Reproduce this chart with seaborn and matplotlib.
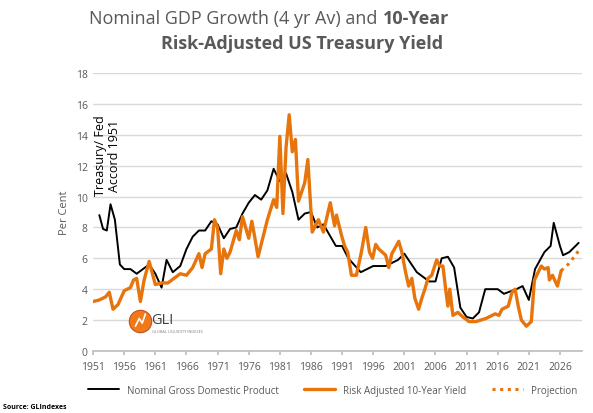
import numpy as np
import pandas as pd
import matplotlib
matplotlib.use("Agg")
import matplotlib.pyplot as plt
import seaborn as sns

# nominal GDP growth, 4 yr average
gdp_year = [1952, 1952.6, 1953.2, 1953.8, 1954.5, 1955.3, 1956, 1957, 1958, 1959, 1960, 1961, 1962, 1962.8,
            1963.8, 1965, 1966, 1967, 1968, 1969, 1970, 1971, 1972, 1973, 1974, 1975, 1976, 1977,
            1978, 1979, 1980, 1981, 1982, 1983, 1984, 1985, 1986, 1987, 1988, 1990, 1991, 1992,
            1994, 1996, 1998, 2000, 2001, 2003, 2005, 2006, 2007, 2008, 2009, 2010, 2011, 2012,
            2013, 2014, 2016, 2017, 2019, 2020, 2021, 2022, 2023.5, 2024.5, 2025, 2026, 2026.5,
            2027.5, 2029]
gdp_val = [8.8, 7.9, 7.8, 9.5, 8.5, 5.6, 5.3, 5.3, 5.0, 5.3, 5.6, 5.0, 4.1, 5.9,
           5.1, 5.5, 6.6, 7.4, 7.8, 7.8, 8.4, 8.2, 7.3, 7.9, 8.0, 8.9, 9.6, 10.1,
           9.8, 10.4, 11.8, 11.0, 11.5, 10.3, 8.5, 8.9, 9.0, 8.0, 8.2, 6.8, 6.8, 6.0,
           5.1, 5.5, 5.5, 5.9, 6.3, 5.1, 4.5, 4.5, 6.0, 6.1, 5.4, 2.8, 2.2, 2.1,
           2.5, 4.0, 4.0, 3.7, 4.0, 4.2, 3.3, 5.3, 6.4, 6.8, 8.3, 6.8, 6.2,
           6.4, 7.0]

# risk adjusted 10-year yield
ry_year = [1951, 1952, 1953, 1953.6, 1954.2, 1955, 1956, 1957, 1957.5, 1958, 1958.6, 1959.2, 1960, 1961,
           1962, 1963, 1964, 1965, 1966, 1967, 1968, 1968.5, 1969, 1970, 1970.5, 1971, 1971.5,
           1972, 1972.5, 1973, 1974, 1974.5, 1975, 1976, 1976.5, 1977, 1977.5, 1978, 1979, 1980,
           1980.5, 1981, 1981.5, 1982, 1982.5, 1983, 1983.5, 1984, 1985, 1985.5, 1986.2, 1987.2,
           1988, 1989.1, 1989.8, 1990.1, 1990.9, 1991.4, 1991.9, 1992.5, 1993.3, 1994.1, 1994.8,
           1995.4, 1995.9, 1996.4, 1996.9, 1998, 1998.5, 1999, 2000.1, 2000.6, 2001.2, 2001.7,
           2002.2, 2002.7, 2003.3, 2003.8, 2004.3, 2004.8, 2005.4, 2006.2, 2006.7, 2007.2, 2007.7,
           2008, 2008.3, 2008.8, 2009.6, 2010.4, 2011.4, 2012.5, 2014.1, 2015.6, 2016.2, 2016.7,
           2017.7, 2018.3, 2018.8, 2019.3, 2019.8, 2020.6, 2021.4, 2021.9, 2023, 2023.5, 2024.1,
           2024.3, 2024.8, 2025.6, 2026.2]
ry_val = [3.2, 3.3, 3.5, 3.8, 2.7, 3.0, 3.9, 4.1, 4.6, 4.7, 3.2, 4.6, 5.8, 4.3,
          4.4, 4.4, 4.7, 5.0, 4.9, 5.4, 6.3, 5.4, 6.3, 6.6, 8.5, 8.0, 5.0,
          6.6, 6.0, 6.4, 7.8, 7.2, 8.7, 7.3, 8.4, 7.3, 6.1, 6.9, 8.5, 9.8,
          9.3, 13.9, 8.9, 13.2, 15.3, 12.9, 13.7, 9.7, 10.9, 12.4, 7.7, 8.5,
          7.7, 9.6, 8.1, 8.8, 7.5, 6.8, 6.4, 4.9, 4.9, 6.4, 8.0,
          6.4, 6.0, 6.9, 6.6, 6.2, 5.4, 6.3, 7.1, 6.4, 5.1, 4.2,
          4.7, 3.4, 2.7, 3.4, 4.0, 4.7, 4.9, 5.9, 5.5, 5.5, 3.8,
          2.9, 4.0, 2.3, 2.5, 2.2, 1.9, 1.9, 2.1, 2.4, 2.3, 2.7,
          2.9, 3.8, 4.0, 2.9, 2.0, 1.6, 1.9, 4.6, 5.5, 5.3, 5.4,
          4.6, 4.9, 4.2, 5.2]

proj_year = [2026.2, 2027.3, 2028.5, 2029]
proj_val = [5.2, 5.6, 6.2, 6.5]

orange = "#E8740C"
grey = "#595959"

sns.set_theme(style="white")
plt.rcParams["font.family"] = ["Open Sans", "DejaVu Sans"]

fig = plt.figure(figsize=(5.93, 4.14), dpi=100)
ax = fig.add_axes([0.157, 0.150, 0.824, 0.671])

gdp = pd.DataFrame({"year": gdp_year, "val": gdp_val})
ry = pd.DataFrame({"year": ry_year, "val": ry_val})
pj = pd.DataFrame({"year": proj_year, "val": proj_val})

sns.lineplot(data=gdp, x="year", y="val", ax=ax, color="black", lw=1.4,
             label="Nominal Gross Domestic Product")
sns.lineplot(data=ry, x="year", y="val", ax=ax, color=orange, lw=2.4,
             label="Risk Adjusted 10-Year Yield")
sns.lineplot(data=pj, x="year", y="val", ax=ax, color=orange, lw=2.2, ls=(0, (1, 1.5)),
             label="Projection")

ax.set_xlim(1951, 2029.5)
ax.set_ylim(0, 18)
ax.set_xticks(np.arange(1951, 2027, 5))
ax.set_yticks(np.arange(0, 19, 2))
ax.grid(axis="y", color="#D9D9D9", lw=1)
ax.set_axisbelow(True)
for s in ["top", "right", "left"]:
    ax.spines[s].set_visible(False)
ax.spines["bottom"].set_color("#BFBFBF")
ax.tick_params(axis="both", labelsize=7.5, colors=grey, length=0, pad=4)
ax.tick_params(axis="x", length=3, color="#BFBFBF", direction="out", bottom=True)
ax.set_xlabel("")
ax.set_ylabel("Per Cent", fontsize=8, color=grey)

ax.text(1953.3, 10.1, "Treasury/ Fed\nAccord 1951", rotation=90, fontsize=9,
        ha="center", va="bottom", color="black", linespacing=1.1)

# logo
ax.scatter([1958.6], [1.95], s=260, color="#F07A1A", edgecolor="#C8501A", lw=0.8,
           zorder=5, clip_on=False)
ax.plot([1957.8, 1958.4, 1958.9, 1959.4], [1.6, 2.1, 1.8, 2.4], color="white", lw=1.2, zorder=6)
ax.text(1960.4, 2.05, "GLI", fontsize=10.5, color="#404040", va="center", ha="left")
ax.text(1960.4, 1.35, "GLOBAL LIQUIDITY INDEXES", fontsize=2.8, color="#7F7F7F",
        va="center", ha="left")

leg = ax.legend(loc="upper center", bbox_to_anchor=(0.49, -0.09), ncol=3, frameon=False,
                fontsize=7, handlelength=3.2, columnspacing=2.6)
for t in leg.get_texts():
    t.set_color(grey)

fig.text(0.645, 0.955, "Nominal GDP Growth (4 yr Av) and ", fontsize=13, color=grey,
         ha="right", va="center")
fig.text(0.645, 0.955, "10-Year", fontsize=13, color=grey, weight="bold",
         ha="left", va="center")
fig.text(0.51, 0.893, "Risk-Adjusted US Treasury Yield", fontsize=13, color=grey,
         weight="bold", ha="center", va="center")
fig.text(0.005, 0.012, "Source: GLIndexes", fontsize=5, weight="bold", color="black")

fig.savefig("out.png", dpi=100)
